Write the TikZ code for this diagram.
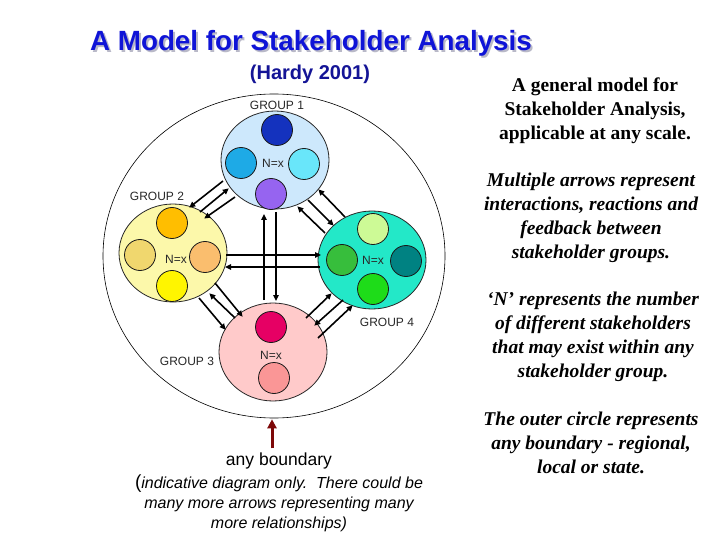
\documentclass[tikz,border=0pt]{standalone}
\usepackage{fontspec}
\setmainfont{Liberation Sans}
\newfontfamily\serifb{Liberation Serif}
\usetikzlibrary{arrows.meta,calc,shapes.geometric}
\definecolor{titleblue}{RGB}{15,20,215}
\definecolor{shadowgray}{RGB}{185,185,200}
\definecolor{hardyblue}{RGB}{20,20,150}
\definecolor{gOnefill}{RGB}{205,232,252}
\definecolor{gTwofill}{RGB}{252,248,170}
\definecolor{gThreefill}{RGB}{255,202,202}
\definecolor{gFourfill}{RGB}{35,232,200}
\definecolor{boundred}{RGB}{125,8,8}
\definecolor{lblgray}{RGB}{40,40,40}
\tikzset{
  grp/.style={ellipse, draw=black!85, line width=0.8pt, minimum width=108pt, minimum height=98pt, inner sep=0pt},
  dot/.style={circle, draw=black!90, line width=0.8pt, minimum size=31pt, inner sep=0pt},
  lbl/.style={font=\fontsize{12}{14}\selectfont, text=lblgray, inner sep=0pt},
  arr/.style={line width=1.6pt, -{Triangle[length=6pt,width=5.5pt]}, shorten >=-1pt},
  rtext/.style={align=center, inner sep=0pt, font=\serifb\bfseries\fontsize{19.5}{24}\selectfont},
  rtexti/.style={align=center, inner sep=0pt, font=\serifb\bfseries\itshape\fontsize{19.5}{24}\selectfont},
  ttl/.style={font=\bfseries\fontsize{27.8}{30}\selectfont, inner sep=0pt},
}
\begin{document}
\begin{tikzpicture}[x=1pt,y=-1pt]
\useasboundingbox[fill=white] (0,0) rectangle (720,540);

% title (with its light shadow)
\node[ttl, text=shadowgray] (titleshadow) at (313,45) {A Model for Stakeholder Analysis};
\node[ttl, text=titleblue] (title) at (311,43) {A Model for Stakeholder Analysis};
\node[text=hardyblue, font=\bfseries\fontsize{20}{22}\selectfont, inner sep=0pt] (hardy) at (310,74) {(Hardy 2001)};

% outer boundary
\node[ellipse, draw=black, line width=0.6pt, minimum width=342pt, minimum height=324pt, inner sep=0pt] (outer) at (274,256) {};

% group 1
\node[grp, fill=gOnefill] (g1) at (275,160) {};
\node[dot, fill={rgb,255:red,20;green,50;blue,190}] (g1a) at (277,130) {};
\node[dot, fill={rgb,255:red,30;green,170;blue,230}] (g1b) at (241,163) {};
\node[dot, fill={rgb,255:red,105;green,230;blue,250}] (g1c) at (304,164) {};
\node[dot, fill={rgb,255:red,150;green,100;blue,240}] (g1d) at (271,194) {};
\node[lbl] (g1n) at (273,163) {N=x};
\node[lbl] (g1l) at (277,105) {GROUP 1};

% group 2
\node[grp, fill=gTwofill] (g2) at (173,253) {};
\node[dot, fill={rgb,255:red,255;green,190;blue,0}] (g2a) at (172,223) {};
\node[dot, fill={rgb,255:red,240;green,215;blue,110}] (g2b) at (140,255) {};
\node[dot, fill={rgb,255:red,250;green,190;blue,110}] (g2c) at (205,257) {};
\node[dot, fill={rgb,255:red,255;green,245;blue,0}] (g2d) at (172,286) {};
\node[lbl] (g2n) at (176,259) {N=x};
\node[lbl] (g2l) at (157,196) {GROUP 2};

% group 3
\node[grp, fill=gThreefill] (g3) at (273,352) {};
\node[dot, fill={rgb,255:red,230;green,0;blue,100}] (g3a) at (271,327) {};
\node[dot, fill={rgb,255:red,250;green,150;blue,150}] (g3b) at (274,378) {};
\node[lbl] (g3n) at (271,355) {N=x};
\node[lbl] (g3l) at (187,361) {GROUP 3};

% group 4
\node[grp, fill=gFourfill] (g4) at (372,260) {};
\node[dot, fill={rgb,255:red,205;green,250;blue,150}] (g4a) at (373,229) {};
\node[dot, fill={rgb,255:red,55;green,190;blue,60}] (g4b) at (342,260) {};
\node[dot, fill={rgb,255:red,0;green,130;blue,130}] (g4c) at (406,261) {};
\node[dot, fill={rgb,255:red,30;green,220;blue,25}] (g4d) at (373,289) {};
\node[lbl] (g4n) at (373,260) {N=x};
\node[lbl] (g4l) at (387,322) {GROUP 4};

% arrows G1 - G2
\draw[arr] ($(g1)+(-52,21)$) -- ($(g2)+(17,-46)$);
\draw[arr] ($(g2)+(27,-41)$) -- ($(g1)+(-47,29)$);
\draw[arr] ($(g1)+(-40,37)$) -- ($(g2)+(32,-35)$);
% arrows G1 - G4
\draw[arr] ($(g4)+(-27,-43)$) -- ($(g1)+(44,30)$);
\draw[arr] ($(g1)+(33,40)$) -- ($(g4)+(-39,-35)$);
\draw[arr] ($(g4)+(-47,-27)$) -- ($(g1)+(23,47)$);
% arrows G1 - G3
\draw[arr] ($(g3)+(-9,-52)$) -- ($(g1)+(-11,55)$);
\draw[arr] ($(g1)+(1,52)$) -- ($(g3)+(3,-52)$);
% arrows G2 - G4
\draw[arr] ($(g2)+(53,2)$) -- ($(g4)+(-52,-5)$);
\draw[arr] ($(g4)+(-52,7)$) -- ($(g2)+(53,14)$);
% arrows G2 - G3
\draw[arr] ($(g2)+(26,45)$) -- ($(g3)+(-48,-23)$);
\draw[arr] ($(g3)+(-38,-34)$) -- ($(g2)+(37,41)$);
\draw[arr] ($(g2)+(42,30)$) -- ($(g3)+(-31,-36)$);
% arrows G3 - G4
\draw[arr] ($(g3)+(33,-34)$) -- ($(g4)+(-41,34)$);
\draw[arr] ($(g4)+(-29,40)$) -- ($(g3)+(42,-27)$);
\draw[arr] ($(g3)+(45,-14)$) -- ($(g4)+(-20,46)$);

% boundary label and arrow
\node[font=\fontsize{17.5}{19}\selectfont, inner sep=0pt] (bnd) at (279,461) {any boundary};
\draw[boundred, line width=3pt, -{Triangle[length=9pt,width=9pt]}] ($(outer.south)+(-2,30)$) -- ($(outer.south)+(-2,1)$);
\node[align=center, inner sep=0pt, font=\itshape\fontsize{16}{20}\selectfont] (note) at (279,503)
  {{\upshape\fontsize{19}{20}\selectfont(}indicative diagram only.\ \ There could be\\many more arrows representing many\\more relationships)};

% right-hand texts
\node[rtext] (t1) at (595,111) {A general model for\\Stakeholder Analysis,\\applicable at any scale.};
\node[rtexti] (t2) at (591,218) {Multiple arrows represent\\interactions, reactions and\\feedback between\\stakeholder groups.};
\node[rtexti] (t3) at (593,337) {‘N’ represents the number\\of different stakeholders\\that may exist within any\\stakeholder group.};
\node[rtexti] (t4) at (591,443) {The outer circle represents\\any boundary - regional,\\local or state.};
\end{tikzpicture}
\end{document}
